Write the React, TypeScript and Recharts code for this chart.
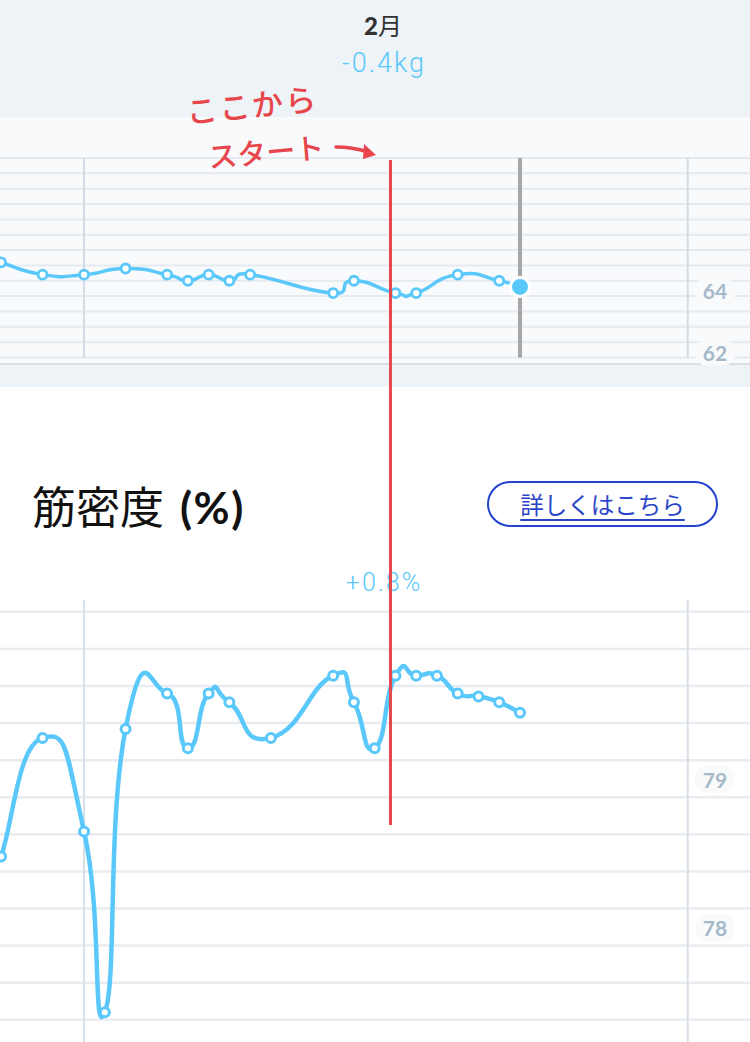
import React from 'react';
import { LineChart, Line, XAxis, YAxis, CartesianGrid, ReferenceLine } from 'recharts';

// day index (0 = first vertical line)
const weightDays = [-4, -2, 0, 2, 4, 5, 6, 7, 8, 12, 13, 15, 16, 18, 20, 21];
const weightValues = [64.6, 64.2, 64.2, 64.4, 64.2, 64.0, 64.2, 64.0, 64.2, 63.6, 64.0, 63.6, 63.6, 64.2, 64.0, 63.8];
const weightGrid = [61.5, 62, 62.5, 63, 63.5, 64, 64.5, 65, 65.5, 66, 66.5, 67, 67.5, 68];
const weightLabels = [62, 64];

const muscleDays = [-4, -2, 0, 1, 2, 4, 5, 6, 7, 9, 12, 13, 14, 15, 16, 17, 18, 19, 20, 21];
const muscleValues = [78.35, 79.15, 78.52, 77.3, 79.21, 79.45, 79.08, 79.45, 79.39, 79.15, 79.57, 79.39, 79.08, 79.57, 79.57, 79.57, 79.45, 79.43, 79.39, 79.32];
const muscleGrid = [77.25, 77.5, 77.75, 78, 78.25, 78.5, 78.75, 79, 79.25, 79.5, 79.75, 80];
const muscleLabels = [78, 79];

const monthLines = [0, 29.08];
const currentDay = 21;

const weightData = weightDays.map((day, i) => ({ day, value: weightValues[i] }));
const muscleData = muscleDays.map((day, i) => ({ day, value: muscleValues[i] }));

const W = 750;
const BLUE = '#5ac8fa';
const X_DOMAIN = [-4.05, 32.08];

// cubic bezier like iOS Charts (intensity 0.3), control x kept inside the segment
const bezierCurve = (context: any) => {
  let pts: number[][] = [];
  const k = 0.3;
  const clamp = (v: number, a: number, b: number) => Math.min(Math.max(v, a), b);
  return {
    areaStart() {},
    areaEnd() {},
    lineStart() {
      pts = [];
    },
    point(x: number, y: number) {
      pts.push([+x, +y]);
    },
    lineEnd() {
      const n = pts.length;
      if (!n) return;
      context.moveTo(pts[0][0], pts[0][1]);
      for (let i = 1; i < n; i++) {
        const pp = pts[Math.max(i - 2, 0)];
        const p = pts[i - 1];
        const c = pts[i];
        const nx = pts[Math.min(i + 1, n - 1)];
        context.bezierCurveTo(
          clamp(p[0] + (c[0] - pp[0]) * k, p[0], c[0]),
          p[1] + (c[1] - pp[1]) * k,
          clamp(c[0] - (nx[0] - p[0]) * k, p[0], c[0]),
          c[1] - (nx[1] - p[1]) * k,
          c[0],
          c[1]
        );
      }
    },
  };
};

const makeTick = (labels: number[], dy: number, bg: string) => (props: any) => {
  const { y, payload } = props;
  if (!labels.includes(payload.value)) return <g />;
  return (
    <g>
      <rect x={695} y={y + dy - 14} width={40} height={28} rx={13} fill={bg} />
      <text
        x={715}
        y={y + dy}
        textAnchor="middle"
        dominantBaseline="central"
        fontFamily="Lato, 'Open Sans', sans-serif"
        fontWeight={700}
        fontSize={21}
        fill="#a6b9c8"
      >
        {payload.value}
      </text>
    </g>
  );
};

const renderWeightDot = (props: any) => {
  const { cx, cy, index } = props;
  if (index === weightData.length - 1) {
    return <circle key={index} cx={cx} cy={cy} r={9.5} fill={BLUE} stroke="#fff" strokeWidth={3} />;
  }
  return <circle key={index} cx={cx} cy={cy} r={4.5} fill="#fff" stroke={BLUE} strokeWidth={2.8} />;
};

const renderMuscleDot = (props: any) => {
  const { cx, cy, index } = props;
  return <circle key={index} cx={cx} cy={cy} r={4.5} fill="#fff" stroke={BLUE} strokeWidth={3} />;
};

const abs = (style: React.CSSProperties): React.CSSProperties => ({ position: 'absolute', ...style });

const hiddenX = (
  <XAxis
    dataKey="day"
    type="number"
    domain={X_DOMAIN}
    height={0}
    tick={false}
    axisLine={false}
    tickLine={false}
  />
);

export default function App() {
  return (
    <div
      style={{
        position: 'relative',
        width: W,
        height: 1042,
        overflow: 'hidden',
        background: '#fff',
        fontFamily: "'Noto Sans CJK JP', sans-serif",
      }}
    >
      <style>{'body{margin:0}'}</style>

      {/* header */}
      <div style={abs({ left: 0, top: 0, width: W, height: 117, background: '#eef3f7' })} />
      <div
        style={abs({
          left: 383,
          top: 9,
          transform: 'translateX(-50%)',
          fontSize: 24,
          lineHeight: '32px',
          color: '#333',
          whiteSpace: 'nowrap',
        })}
      >
        <span style={{ fontFamily: 'Lato, sans-serif', fontWeight: 900 }}>2</span>
        <span style={{ fontWeight: 400 }}>月</span>
      </div>
      <div
        style={abs({
          left: 384,
          top: 47,
          transform: 'translateX(-50%)',
          fontFamily: 'Roboto, sans-serif',
          fontWeight: 300,
          fontSize: 27,
          lineHeight: '32px',
          letterSpacing: 2,
          color: BLUE,
          whiteSpace: 'nowrap',
        })}
      >
        -0.4kg
      </div>

      {/* weight panel */}
      <div style={abs({ left: 0, top: 117, width: W, height: 246, background: '#f8fafc' })} />
      <div style={abs({ left: 0, top: 363, width: W, height: 2, background: '#d7dfe7' })} />
      <div style={abs({ left: 0, top: 365, width: W, height: 22, background: '#eef3f7' })} />

      <div style={abs({ left: 0, top: 117 })}>
        <LineChart width={W} height={248} data={weightData} margin={{ top: 41, right: 0, bottom: 7.5, left: 0 }}>
          <CartesianGrid vertical={false} syncWithTicks stroke="#e5eaf0" strokeWidth={2} />
          {hiddenX}
          <YAxis
            type="number"
            domain={[61.5, 68]}
            ticks={weightGrid}
            interval={0}
            orientation="right"
            mirror
            axisLine={false}
            tickLine={false}
            tick={makeTick(weightLabels, 10, '#f8fafc')}
          />
          {monthLines.map((d) => (
            <ReferenceLine key={d} x={d} stroke="#d3dbe4" strokeWidth={2} />
          ))}
          <ReferenceLine x={currentDay} stroke="#a7a7a7" strokeWidth={4} />
          <Line
            dataKey="value"
            type={bezierCurve as any}
            stroke={BLUE}
            strokeWidth={3.5}
            dot={renderWeightDot}
            activeDot={false}
            isAnimationActive={false}
          />
        </LineChart>
      </div>

      {/* muscle density section */}
      <div
        style={abs({
          left: 32,
          top: 478,
          fontSize: 44,
          lineHeight: '54px',
          color: '#111',
          whiteSpace: 'nowrap',
        })}
      >
        <span style={{ fontWeight: 400 }}>筋密度</span>
        <span
          style={{ fontFamily: 'Lato, sans-serif', fontWeight: 700, letterSpacing: 1.5, marginLeft: 16 }}
        >
          (%)
        </span>
      </div>
      <div
        style={abs({
          left: 487,
          top: 481,
          width: 231,
          height: 46,
          boxSizing: 'border-box',
          border: '2px solid #2343d0',
          borderRadius: 24,
          display: 'flex',
          alignItems: 'center',
          justifyContent: 'center',
        })}
      >
        <span
          style={{
            fontSize: 23.5,
            lineHeight: '30px',
            color: '#2b45c8',
            textDecoration: 'underline',
            textDecorationThickness: 2,
            textUnderlineOffset: 5,
          }}
        >
          詳しくはこちら
        </span>
      </div>
      <div
        style={abs({
          left: 384,
          top: 567,
          transform: 'translateX(-50%)',
          fontFamily: 'Roboto, sans-serif',
          fontWeight: 300,
          fontSize: 25,
          lineHeight: '32px',
          letterSpacing: 2,
          color: BLUE,
          whiteSpace: 'nowrap',
        })}
      >
        +0.8%
      </div>

      <div style={abs({ left: 0, top: 600 })}>
        <LineChart width={W} height={442} data={muscleData} margin={{ top: 0, right: 0, bottom: 0, left: 0 }}>
          <CartesianGrid vertical={false} syncWithTicks stroke="#e8ecf0" strokeWidth={2.5} />
          {hiddenX}
          <YAxis
            type="number"
            domain={[77.1, 80.08]}
            ticks={muscleGrid}
            interval={0}
            orientation="right"
            mirror
            axisLine={false}
            tickLine={false}
            tick={makeTick(muscleLabels, 19, '#f8fafb')}
          />
          {monthLines.map((d) => (
            <ReferenceLine key={d} x={d} stroke="#d6dee7" strokeWidth={2} />
          ))}
          <Line
            dataKey="value"
            type={bezierCurve as any}
            stroke={BLUE}
            strokeWidth={4.5}
            dot={renderMuscleDot}
            activeDot={false}
            isAnimationActive={false}
          />
        </LineChart>
      </div>

      {/* hand-written annotation */}
      <div
        style={abs({
          left: 186,
          top: 84,
          fontSize: 31,
          fontWeight: 500,
          lineHeight: '40px',
          color: '#e8464d',
          letterSpacing: 2,
          transform: 'rotate(-6deg)',
          whiteSpace: 'nowrap',
        })}
      >
        ここから
      </div>
      <div
        style={abs({
          left: 208,
          top: 130,
          fontSize: 29,
          fontWeight: 500,
          lineHeight: '40px',
          color: '#e8464d',
          transform: 'rotate(-5deg)',
          whiteSpace: 'nowrap',
        })}
      >
        スタート
      </div>
      <svg style={abs({ left: 330, top: 135 })} width={60} height={30}>
        <path d="M6 12 Q22 12 38 17" stroke="#e8464d" strokeWidth={3.5} fill="none" strokeLinecap="round" />
        <path d="M34 9 L46 20 L33 24 Z" fill="#e8464d" />
      </svg>
      <div style={abs({ left: 389, top: 160, width: 2.5, height: 665, background: '#e5484d' })} />
    </div>
  );
}
